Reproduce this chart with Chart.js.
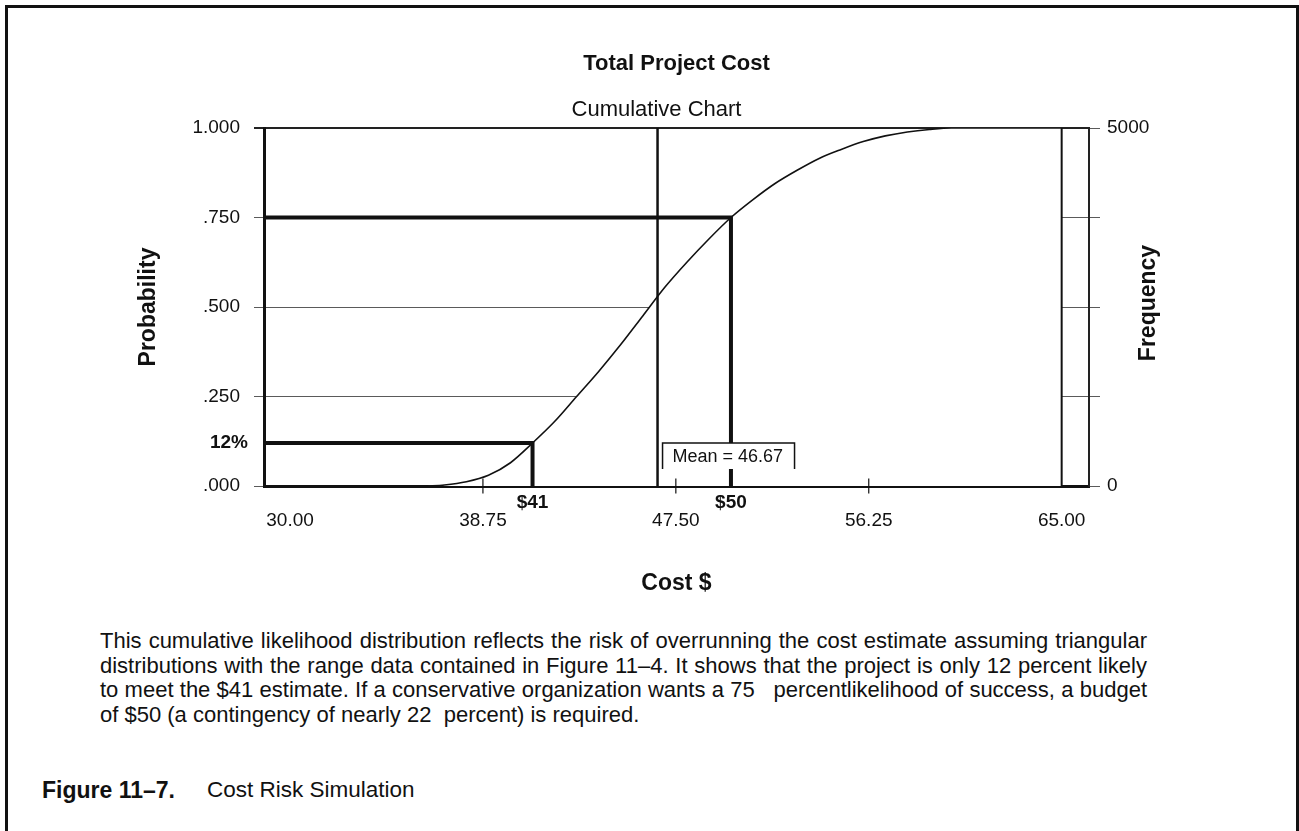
<!DOCTYPE html>
<html>
<head>
<meta charset="utf-8">
<script src="https://cdn.jsdelivr.net/npm/chart.js@4.4.1/dist/chart.umd.min.js"></script>
<style>
  html, body { margin: 0; padding: 0; background: #fff; overflow: hidden; width: 1299px; height: 831px; }
  #frame { position: absolute; left: 5px; top: 5px; width: 1288px; height: 900px; border: 3px solid #111; border-bottom: none; }
  #chartCanvas { position: absolute; left: 0; top: 0; }
  .caption { position: absolute; left: 100px; top: 629px; width: 1047px; font-family: "Liberation Sans", Arial, sans-serif; font-size: 22px; line-height: 24.5px; color: #111; }
  .caption div { white-space: nowrap; text-align: justify; text-align-last: justify; }
  .caption div.last { text-align-last: left; }
  .figure { position: absolute; left: 42px; top: 778px; width: 600px; font-family: "Liberation Sans", Arial, sans-serif; font-size: 23px; line-height: 24px; color: #111; white-space: nowrap; }
  .figure span { position: absolute; left: 165px; top: 0; font-size: 22.5px; }
</style>
</head>
<body>
<div id="frame"></div>
<canvas id="chartCanvas" width="1299" height="620"></canvas>
<div class="caption">
  <div>This cumulative likelihood distribution reflects the risk of overrunning the cost estimate assuming triangular</div>
  <div>distributions with the range data contained in Figure 11–4. It shows that the project is only 12 percent likely</div>
  <div>to meet the $41 estimate. If a conservative organization wants a 75&nbsp;&nbsp; percentlikelihood of success, a budget</div>
  <div class="last">of $50 (a contingency of nearly 22&nbsp; percent) is required.</div>
</div>
<div class="figure"><b>Figure 11–7.</b><span>Cost Risk Simulation</span></div>
<script>
// cumulative curve
const CURVE_COST = [36.2, 37.0, 38.0, 39.0, 40.0, 41.0, 42.0, 43.0, 44.0, 45.0, 46.0, 47.0, 48.0, 49.0, 50.0, 51.0, 52.0, 53.0, 54.0, 55.0, 56.0, 57.0, 58.0, 59.0, 60.0, 65.0];
const CURVE_PROB = [0.0, 0.003, 0.012, 0.03, 0.065, 0.12, 0.18, 0.25, 0.32, 0.395, 0.475, 0.555, 0.625, 0.69, 0.75, 0.80, 0.845, 0.882, 0.915, 0.94, 0.962, 0.978, 0.989, 0.996, 1.0, 1.0];

const X_MIN = 28.82;
const X_MAX = 66.24;
const X_TICKS = [30.00, 38.75, 47.50, 56.25, 65.00];
const X_MINOR_TICKS = [38.75, 47.50, 56.25];
const RANGE_ENDS = [30, 65];

const Y_TICKS = [0, 0.25, 0.5, 0.75, 1.0];
const Y_TICK_LABELS = [".000", ".250", ".500", ".750", "1.000"];
const FREQ_TICKS = [0, 1250, 2500, 3750, 5000];
const FREQ_LABELS = ["0", "", "", "", "5000"];

const MEAN_COST = 46.67;
const TARGET_COST = [41, 50];
const TARGET_PROB = [0.12, 0.75];
const TARGET_COST_LABELS = ["$41", "$50"];
const TARGET_PROB_LABELS = ["12%", ""];

const FONT = '"Liberation Sans", Arial, sans-serif';
const INK = "#111";

Chart.defaults.font.family = FONT;
Chart.defaults.color = INK;

// text bits that sit on the plot: subtitle, target labels, 12%, mean box, right axis title
const annotationPlugin = {
  id: "annotations",
  afterDraw(chart) {
    const ctx = chart.ctx;
    const area = chart.chartArea;
    const xs = chart.scales.x;
    const ys = chart.scales.y;
    ctx.save();
    ctx.fillStyle = INK;

    // subtitle sits a little left of the plot centre in the original
    ctx.font = "22px " + FONT;
    ctx.textAlign = "center";
    ctx.textBaseline = "alphabetic";
    ctx.fillText("Cumulative Chart", (area.left + area.right) / 2 - 20, area.top - 12);

    ctx.font = "bold 19px " + FONT;
    ctx.textBaseline = "middle";
    TARGET_COST.forEach((c, i) => {
      ctx.fillText(TARGET_COST_LABELS[i], xs.getPixelForValue(c), area.bottom + 17);
    });
    ctx.textAlign = "right";
    TARGET_PROB.forEach((p, i) => {
      if (TARGET_PROB_LABELS[i]) {
        ctx.fillText(TARGET_PROB_LABELS[i], area.left - 16, ys.getPixelForValue(p));
      }
    });

    // mean box
    const bx = xs.getPixelForValue(MEAN_COST) + 5;
    const by = area.bottom - 43;
    const bw = 132;
    const bh = 26;
    ctx.fillStyle = "#fff";
    ctx.fillRect(bx, by, bw, bh);
    ctx.strokeStyle = INK;
    ctx.lineWidth = 1.5;
    ctx.beginPath();
    ctx.moveTo(bx, by + bh);
    ctx.lineTo(bx, by);
    ctx.lineTo(bx + bw, by);
    ctx.lineTo(bx + bw, by + bh);
    ctx.stroke();
    ctx.fillStyle = INK;
    ctx.font = "18px " + FONT;
    ctx.textAlign = "left";
    ctx.fillText("Mean = " + MEAN_COST.toFixed(2), bx + 10, by + bh / 2 + 1);

    // right axis title reads bottom-to-top like the left one
    ctx.font = "bold 23px " + FONT;
    ctx.textAlign = "center";
    ctx.translate(area.right + 60, (area.top + area.bottom) / 2 - 4);
    ctx.rotate(-Math.PI / 2);
    ctx.fillText("Frequency", 0, 0);
    ctx.restore();
  },
};

function lineSet(points, width, order) {
  return {
    data: points,
    showLine: true,
    borderColor: INK,
    borderWidth: width,
    pointRadius: 0,
    tension: 0,
    order: order,
  };
}

const datasets = [];

// thick target lines
TARGET_COST.forEach((c, i) => {
  datasets.push(lineSet([
    { x: X_MIN, y: TARGET_PROB[i] },
    { x: c, y: TARGET_PROB[i] },
    { x: c, y: 0 },
  ], 4, 1));
});

// mean line and end of display range
datasets.push(lineSet([{ x: MEAN_COST, y: 0 }, { x: MEAN_COST, y: 1 }], 2.5, 2));
datasets.push(lineSet([{ x: RANGE_ENDS[1], y: 0 }, { x: RANGE_ENDS[1], y: 1 }], 2, 2));

// short tick marks across the cost axis
datasets.push({
  data: X_MINOR_TICKS.map((v) => ({ x: v, y: 0 })),
  showLine: false,
  pointStyle: "line",
  rotation: 90,
  pointRadius: 7.5,
  borderColor: INK,
  borderWidth: 1.2,
  clip: false,
  order: 0,
});

// range grabbers under the axis
datasets.push({
  data: [{ x: RANGE_ENDS[0] + 0.2, y: -0.025 }, { x: RANGE_ENDS[1] - 0.2, y: -0.025 }],
  showLine: false,
  pointStyle: "triangle",
  rotation: [90, -90],
  pointRadius: 7,
  backgroundColor: INK,
  borderColor: INK,
  borderWidth: 1,
  clip: false,
  order: 0,
});

// the cumulative curve, white underneath so gridlines only show above it
datasets.push({
  data: CURVE_COST.map((c, i) => ({ x: c, y: CURVE_PROB[i] })),
  showLine: true,
  borderColor: INK,
  borderWidth: 1.6,
  pointRadius: 0,
  cubicInterpolationMode: "monotone",
  fill: "origin",
  backgroundColor: "#fff",
  order: 10,
});

const chart = new Chart(document.getElementById("chartCanvas"), {
  type: "scatter",
  data: { datasets: datasets },
  plugins: [annotationPlugin],
  options: {
    responsive: false,
    animation: false,
    events: [],
    layout: { padding: { left: 130, right: 134, top: 0, bottom: 23 } },
    plugins: {
      legend: { display: false },
      tooltip: { enabled: false },
      title: {
        display: true,
        text: "Total Project Cost",
        fullSize: false,
        color: INK,
        font: { size: 22, weight: "bold" },
        padding: { top: 51, bottom: 50.6 },
      },
    },
    scales: {
      x: {
        type: "linear",
        min: X_MIN,
        max: X_MAX,
        afterBuildTicks: (s) => { s.ticks = X_TICKS.map((v) => ({ value: v })); },
        afterFit: (s) => { s.height = 111; },
        grid: { display: false, drawTicks: false },
        border: { color: INK, width: 3 },
        ticks: {
          autoSkip: false,
          maxRotation: 0,
          padding: 23,
          font: { size: 19 },
          color: INK,
          callback: (v) => Number(v).toFixed(2),
        },
        title: {
          display: true,
          text: "Cost $",
          color: INK,
          font: { size: 23, weight: "bold" },
          padding: 0,
        },
      },
      y: {
        type: "linear",
        position: "left",
        min: 0,
        max: 1,
        afterBuildTicks: (s) => { s.ticks = Y_TICKS.map((v) => ({ value: v })); },
        afterFit: (s) => { s.width = 134; },
        grid: {
          color: (c) => (c.tick && c.tick.value === 1 ? "#222" : "#5a5a5a"),
          lineWidth: (c) => (c.tick && c.tick.value === 1 ? 2 : 1),
          tickLength: 10,
        },
        border: { color: INK, width: 3 },
        ticks: {
          padding: 14,
          font: { size: 19 },
          color: INK,
          callback: (v, i) => Y_TICK_LABELS[i],
        },
        title: {
          display: true,
          text: "Probability",
          color: INK,
          font: { size: 23, weight: "bold" },
          padding: { top: 5, bottom: 0 },
        },
      },
      y1: {
        type: "linear",
        position: "right",
        min: 0,
        max: 5000,
        afterBuildTicks: (s) => { s.ticks = FREQ_TICKS.map((v) => ({ value: v })); },
        afterFit: (s) => { s.width = 76; },
        grid: { drawOnChartArea: false, color: "#5a5a5a", tickLength: 11 },
        border: { color: "#222", width: 2 },
        ticks: {
          padding: 7,
          font: { size: 19 },
          color: INK,
          callback: (v, i) => FREQ_LABELS[i],
        },
      },
    },
  },
});
</script>
</body>
</html>
